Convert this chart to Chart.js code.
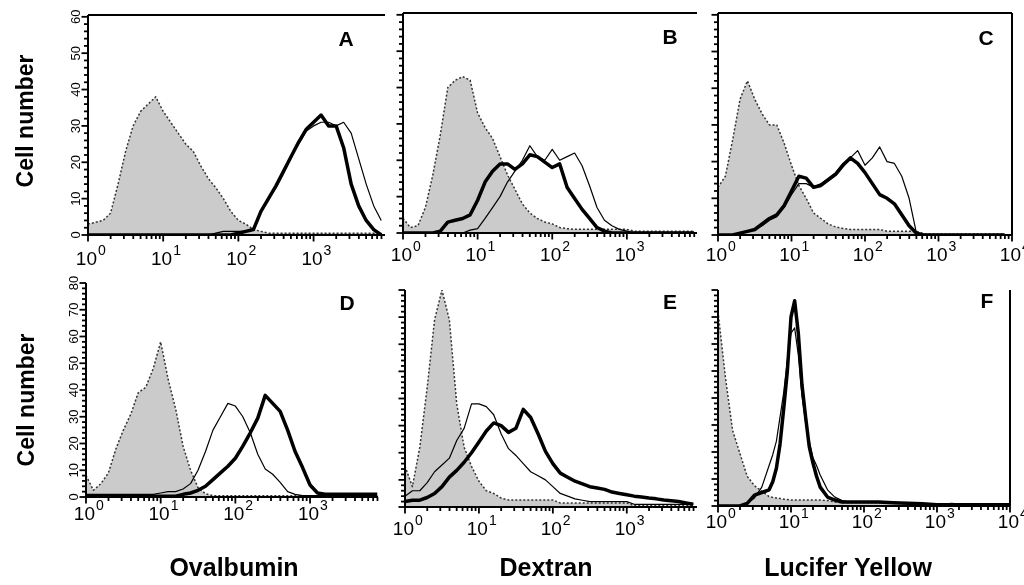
<!DOCTYPE html>
<html>
<head>
<meta charset="utf-8">
<script src="https://cdn.jsdelivr.net/npm/chart.js@4/dist/chart.umd.min.js"></script>
<style>
  body { margin: 0; background: #fff; }
  #wrap { position: relative; width: 1024px; height: 585px; overflow: hidden;
          font-family: "Liberation Sans", Arial, Helvetica, sans-serif; }
  #wrap canvas { position: absolute; left: 0; top: 0; }
  .ytitle { position: absolute; white-space: nowrap; font-weight: bold; font-size: 23px;
            transform: translate(-50%, -50%) rotate(-90deg); }
  .xtitle { position: absolute; white-space: nowrap; font-weight: bold; font-size: 25px;
            transform: translate(-50%, -50%); }
</style>
</head>
<body>
<div id="wrap">
  <div class="ytitle" style="left:25px;top:121px">Cell number</div>
  <div class="ytitle" style="left:26px;top:400px">Cell number</div>
  <div class="xtitle" style="left:234px;top:567px">Ovalbumin</div>
  <div class="xtitle" style="left:546px;top:567px">Dextran</div>
  <div class="xtitle" style="left:848px;top:567px">Lucifer Yellow</div>
</div>
<script>
// channel positions, in decades (log10 of fluorescence)
const decades = [0,0.1,0.2,0.3,0.4,0.5,0.6,0.7,0.8,0.9,1,1.1,1.2,1.3,1.4,1.5,1.6,1.7,1.8,1.9,
                 2,2.1,2.2,2.3,2.4,2.5,2.6,2.7,2.8,2.9,3,3.1,3.2,3.3,3.4,3.5,3.6,3.7,3.8,3.9];
const decadesF = [0,0.1,0.2,0.3,0.4,0.5,0.6,0.7,0.75,0.8,0.85,0.9,0.95,1,1.05,1.1,1.15,1.2,1.25,
                  1.3,1.35,1.4,1.5,1.6,1.7,1.8,2,2.2,2.4,2.6,2.8,3,3.2,3.4,3.6,3.8,4];

// A - Ovalbumin, top row
const controlA = [3,3.5,4,6,14,23,30,34,36,38, 34,31,28,25,23,19,15.5,13,10,6.5,
                  4,3,1.5,1,0.5,0.5,0.5,0.5,0.5,0.5, 0.5,0.5,0.5,0.5,0.5,0.5,0.5,0.5,0.5,0.5];
const thinA = [0,0,0,0,0,0,0,0,0,0, 0,0,0,0,0,0,0,0.5,1,1,
               1,1,1.5,6.5,10,13,17,21.5,25,28.5, 30,31,31,30,31,28,21,14,8,4];
const thickA = [0,0,0,0,0,0,0,0,0,0, 0,0,0,0,0,0,0,0,0,0,
                0.5,1,1.5,6.5,10,13.5,17.5,21.5,25.5,29, 31,33,30,30,24,14,8,4,1.5,0];

// B - Dextran, top row
const controlB = [4,1.5,2,7,16,27,40,42,43,42, 33,29,26,21,16,12,8,5.5,4,3,
                  2.5,1.5,1.2,1,1,1,1,1,1,1, 1,0.5,0.5,0.5,0.5,0.5,0.5,0.5,0.5,0.5];
const thinB = [0,0,0,0,0,0,0,0,0,0.8, 1.2,4,7,10,14,17,20,24,21,20,
               23,20,21,22,18.5,13,7,3.5,2,1, 0.5,0,0,0,0,0,0,0,0,0];
const thickB = [0,0,0,0,0,0.5,3,3.5,4,5, 9,14,17,19,19,17.5,19,21.5,21,19.5,
                18,19,12.5,9.5,6.5,4,1.5,0.5,0,0, 0,0,0,0,0,0,0,0,0,0];

// C - Lucifer Yellow, top row
const controlC = [13,16,26,37,42,37,33,30,30,25, 19,13.5,10,6,4.5,3,2.2,1.8,1.5,1.5,
                  1.5,1.5,1.5,1,1,1,1,1,0.3,0.3, 0.3,0.3,0.3,0.3,0.3,0.3,0.3,0.3,0.3,0.3];
const thinC = [0,0,0,0.5,1,1.5,2.5,4,5,7.5, 11,14,14,13,14,15.5,17,19.5,21,23,
               19,21,24,20,19.5,16,10,0.5,0,0, 0,0,0,0,0,0,0,0,0,0];
const thickC = [0,0,0,0.5,1,1.5,3,4.5,5.5,8, 12,16,15.5,13,13.5,15,16.5,19,21,19.5,
                17,14,11,10,8.5,5.5,2.5,0.5,0,0, 0,0,0,0,0,0,0,0,0,0];

// D - Ovalbumin, bottom row
const controlD = [8,2.5,5,9,18,25,31,39,41,48, 58,44,33,19,10,3.5,1.2,0.5,0.5,0.5,
                  0.5,0.5,0.5,0.5,0.5,0.5,0.5,0.5,0.5,0.5, 0.5,0.5,0.5,0.5,0.5,0.5,0.5,0.5,0.5,0.5];
const thinD = [1,1,1,1,1,1,1,1,1,1, 1.5,2,2,3,5,10,17,25,30,35,
               34,30,24,16,10.5,8.5,5.5,2,1,0.5, 0.5,0.5,0.5,0.5,0.5,0.5,0.5,0.5,0.5,0.5];
const thickD = [0.3,0.3,0.3,0.3,0.3,0.3,0.3,0.3,0.3,0.3, 0.3,0.3,0.3,1,1.5,2.5,4,6.5,9,11.5,
                14.5,19,24,29.5,38,35,32,25,17,11, 4.5,1.5,1,1,1,1,1,1,1,1];

// E - Dextran, bottom row
const controlE = [15,7.5,22,44,69,80,69,38,22,15, 9.5,6,5,3.3,2.6,2.6,2.6,2.6,2.6,2.6,
                  2.6,1.5,1.5,1.5,1.5,1.5,1.5,1.5,1.5,1.5, 1.5,0.5,0.5,0.5,0.5,0.5,0.5,0.5,0.5,0.5];
const thinE = [4,6,6,9,13,15.5,18,24.5,29,38, 38,37,34,27,21.5,19,16,13,11.5,10,
               7.5,5,4,3,2.5,2,2,2,2,2, 2,1,1,1,1,1,1,1,1,1];
const thickE = [2,2.5,2.5,3.5,5,7.5,11,13.5,16.5,20, 24,28,31,30,27.5,29,36,33,27,20.5,
                16,12.5,11,9.5,8.5,7.5,7,6.5,5.5,5, 4.5,4,3.7,3.3,3,2.6,2.3,2,1.5,1];

// F - Lucifer Yellow, bottom row
const controlF = [72,48,28,19.5,11,7.5,5.5,3.5, 3.2,3,2.8,2.5,2.4, 2.2,2.2,2.2,2.2,2.2,2.2,2.2,2.2,2.2,
                  2,1.5,1.2,1.2, 1.2,1.2,1,0.8,0.5, 0.5,0.5,0.5,0.5,0.5,0.5];
const thinF = [0,0,0,0,1,3,7,15, 19,24,33,42,54, 64,66,56,41,31,24,18,15,11.5,
               6,3.3,2,1.5, 1.5,1.5,1.2,1,0.8, 0.5,1,0.5,0.5,0.5,0.5];
const thickF = [0,0,0,0,1,4,5,6, 9,14,23,36,50, 70,76,64,45,33,22,16,11,7,
                3.3,2.2,1.5,1.5, 1.5,1.5,1.2,1,0.8, 0.5,0.5,0.5,0.5,0.5,0.5];

const xTickLabels = ['0', '1', '2', '3', '4'];   // exponents shown as 10^n
const yTickStep = 2;

// draws the axes, ticks, tick labels and panel letter from the chart's own scales
const axisDecor = {
  id: 'axisDecor',
  afterDraw(chart, args, o) {
    const ctx = chart.ctx, a = chart.chartArea;
    const xs = chart.scales.x, ys = chart.scales.y;
    ctx.save();
    ctx.strokeStyle = '#000';
    ctx.fillStyle = '#000';
    ctx.lineWidth = 2;
    ctx.beginPath();
    ctx.moveTo(a.left, a.top);
    ctx.lineTo(a.left, a.bottom);
    ctx.lineTo(a.right, a.bottom);
    if (o.rightLine) { ctx.moveTo(a.right, a.bottom); ctx.lineTo(a.right, a.top); }
    if (o.topLine) { ctx.moveTo(a.left, a.top); ctx.lineTo(a.right, a.top); }
    ctx.stroke();

    // y ticks
    ctx.lineWidth = 1.8;
    for (let v = 0; v <= o.yTickMax; v += yTickStep) {
      const y = ys.getPixelForValue(v);
      const len = v % 10 === 0 ? 6.5 : 4;
      ctx.beginPath();
      ctx.moveTo(a.left - len, y);
      ctx.lineTo(a.left, y);
      ctx.stroke();
      if (o.yLabels && v % 10 === 0) {
        ctx.save();
        ctx.translate(a.left - 12, y);
        ctx.rotate(-Math.PI / 2);
        ctx.font = '13px "Liberation Sans", Arial, sans-serif';
        ctx.textAlign = 'center';
        ctx.textBaseline = 'middle';
        ctx.fillText(String(v), 0, 0);
        ctx.restore();
      }
    }

    // x ticks, decades and 2..9 minors
    for (let d = 0; d < 5; d++) {
      for (let m = 1; m < 10; m++) {
        const val = m * Math.pow(10, d);
        if (val > xs.max * 1.001) break;
        const x = xs.getPixelForValue(val);
        const len = m === 1 ? 6.5 : 4;
        ctx.beginPath();
        ctx.moveTo(x, a.bottom);
        ctx.lineTo(x, a.bottom + len);
        ctx.stroke();
      }
    }

    // decade labels 10^n
    xTickLabels.forEach((e, d) => {
      const val = Math.pow(10, d);
      if (val > xs.max * 1.001) return;
      const x = xs.getPixelForValue(val);
      const y = a.bottom + o.labelGap;
      ctx.textBaseline = 'middle';
      ctx.font = '19px "Liberation Sans", Arial, sans-serif';
      ctx.textAlign = 'right';
      ctx.fillText('10', x + 9, y);
      ctx.font = '14px "Liberation Sans", Arial, sans-serif';
      ctx.textAlign = 'left';
      ctx.fillText(e, x + 10, y - 9);
    });

    // panel letter
    ctx.font = 'bold 21px "Liberation Sans", Arial, sans-serif';
    ctx.textAlign = 'center';
    ctx.textBaseline = 'middle';
    ctx.fillText(o.letter, o.letterX, o.letterY);
    ctx.restore();
  }
};

const panels = [
  { bins: decades, control: controlA, thin: thinA, thick: thickA, letter: 'A', letterX: 346, letterY: 40,
    left: 88, right: 385, top: 15, bottom: 235, xMax: 3.95, yMax: 60.5, yTickMax: 60,
    yLabels: true, topLine: true, rightLine: false, labelGap: 25 },
  { bins: decades, control: controlB, thin: thinB, thick: thickB, letter: 'B', letterX: 670, letterY: 38,
    left: 403, right: 697, top: 13, bottom: 233, xMax: 3.94, yMax: 60.5, yTickMax: 60,
    yLabels: false, topLine: true, rightLine: false, labelGap: 23 },
  { bins: decades, control: controlC, thin: thinC, thick: thickC, letter: 'C', letterX: 986, letterY: 39,
    left: 718, right: 1012, top: 13, bottom: 235, xMax: 4, yMax: 60.5, yTickMax: 60,
    yLabels: false, topLine: true, rightLine: true, labelGap: 21 },
  { bins: decades, control: controlD, thin: thinD, thick: thickD, letter: 'D', letterX: 347, letterY: 304,
    left: 86, right: 378, top: 283, bottom: 497, xMax: 3.91, yMax: 80, yTickMax: 80,
    yLabels: true, topLine: false, rightLine: false, labelGap: 18 },
  { bins: decades, control: controlE, thin: thinE, thick: thickE, letter: 'E', letterX: 670, letterY: 303,
    left: 405, right: 697, top: 290, bottom: 507, xMax: 3.95, yMax: 80, yTickMax: 80,
    yLabels: false, topLine: false, rightLine: false, labelGap: 23 },
  { bins: decadesF, control: controlF, thin: thinF, thick: thickF, letter: 'F', letterX: 987, letterY: 302,
    left: 718, right: 1010, top: 290, bottom: 506, xMax: 4, yMax: 80, yTickMax: 80,
    yLabels: false, topLine: false, rightLine: true, labelGap: 17 }
];

const wrap = document.getElementById('wrap');

panels.forEach(p => {
  const cv = document.createElement('canvas');
  cv.width = 1024;
  cv.height = 585;
  wrap.insertBefore(cv, wrap.firstChild);
  const pts = vals => p.bins.map((e, i) => ({ x: Math.pow(10, e), y: vals[i] }));
  new Chart(cv, {
    type: 'line',
    data: {
      datasets: [
        { data: pts(p.thick), borderColor: '#000', borderWidth: 3.5, order: 1 },
        { data: pts(p.thin), borderColor: '#000', borderWidth: 1.2, order: 2 },
        { data: pts(p.control), borderColor: '#333', borderWidth: 1.5, borderDash: [2, 2],
          backgroundColor: '#cbcbcb', fill: 'origin', order: 3 }
      ]
    },
    options: {
      responsive: false,
      animation: false,
      devicePixelRatio: 1,
      layout: { padding: { left: p.left, top: p.top, right: 1024 - p.right, bottom: 585 - p.bottom } },
      elements: { point: { radius: 0 }, line: { tension: 0, borderJoinStyle: 'round' } },
      scales: {
        x: { type: 'logarithmic', display: false, min: 1, max: Math.pow(10, p.xMax) },
        y: { type: 'linear', display: false, min: 0, max: p.yMax }
      },
      plugins: {
        legend: { display: false },
        tooltip: { enabled: false },
        axisDecor: p
      }
    },
    plugins: [axisDecor]
  });
});
</script>
</body>
</html>
